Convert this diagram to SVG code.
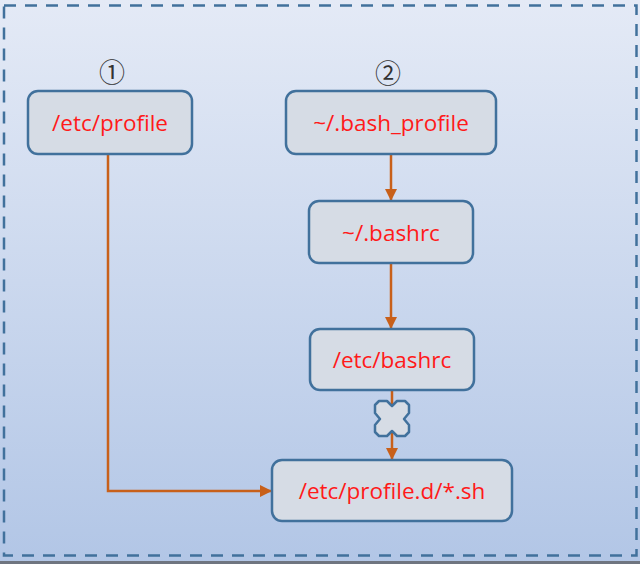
<svg xmlns="http://www.w3.org/2000/svg" width="640" height="564" viewBox="0 0 640 564">
<defs>
<linearGradient id="bg" x1="0" y1="0" x2="0" y2="1">
<stop offset="0" stop-color="#e4eaf6"/>
<stop offset="1" stop-color="#b2c6e6"/>
</linearGradient>
<marker id="arr" markerWidth="12" markerHeight="12" refX="11" refY="6" orient="auto" markerUnits="userSpaceOnUse">
<path d="M0,0 L12,6 L0,12 Z" fill="#c8601a"/>
</marker>
</defs>
<style>
.node rect{fill:#d6dce5;stroke:#41719c;stroke-width:2.5}
.node text{fill:#ff1a1a;font-family:"Open Sans","Noto Sans",sans-serif;font-size:22.5px;text-anchor:middle}
.num{font-family:"Noto Sans CJK SC","DejaVu Sans",sans-serif;font-size:26px;fill:#333;text-anchor:middle}
#connectors path{fill:none;stroke:#c8601a;stroke-width:2.5}
</style>
<rect x="0" y="0" width="640" height="564" fill="url(#bg)"/>
<rect x="0" y="561" width="640" height="3" fill="#6f7580"/>
<rect x="4" y="5.5" width="632.5" height="550" fill="none" stroke="#41719c" stroke-width="2.5" stroke-dasharray="12,9"/>
<text class="num" x="112" y="82">①</text>
<text class="num" x="388" y="83">②</text>
<g id="connectors">
<path d="M108,155 V491 H271" marker-end="url(#arr)"/>
<path d="M391,155 V200" marker-end="url(#arr)"/>
<path d="M391,264 V328" marker-end="url(#arr)"/>
<path d="M392,391 V405"/>
<path d="M392,432 V459" marker-end="url(#arr)"/>
</g>
<g id="blocked">
<path d="M392,406 L397,401 L405,401 L409,405 L409,413 L404,419 L409,425 L409,432 L405,436 L397,436 L392,431 L387,436 L379,436 L375,432 L375,425 L380,419 L375,413 L375,405 L379,401 L387,401 Z" fill="#d6dce5" stroke="#41719c" stroke-width="2.5" stroke-linejoin="round"/>
</g>
<g id="n1" class="node"><rect x="28" y="91" width="164" height="63" rx="10"/><text x="110" y="131">/etc/profile</text></g>
<g id="n2" class="node"><rect x="286" y="91" width="210" height="63" rx="10"/><text x="391" y="131">~/.bash_profile</text></g>
<g id="n3" class="node"><rect x="309" y="201" width="164" height="62" rx="10"/><text x="391" y="241">~/.bashrc</text></g>
<g id="n4" class="node"><rect x="310" y="329" width="164" height="61" rx="10"/><text x="392" y="368">/etc/bashrc</text></g>
<g id="n5" class="node"><rect x="272" y="460" width="240" height="61" rx="10"/><text x="392" y="499">/etc/profile.d/*.sh</text></g>
</svg>
